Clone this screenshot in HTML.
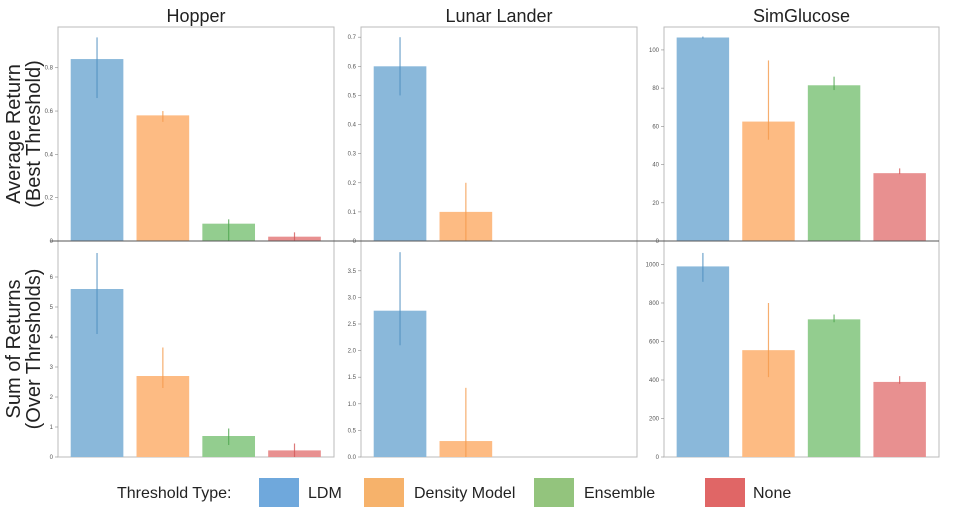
<!DOCTYPE html>
<html><head><meta charset="utf-8">
<style>
html,body{margin:0;padding:0;background:#fff;}
svg{display:block;font-family:"Liberation Sans",sans-serif;}
</style></head>
<body>
<svg id="chart" width="954" height="519" viewBox="0 0 954 519" xmlns="http://www.w3.org/2000/svg">
  <text transform="translate(20,134) rotate(-90)" text-anchor="middle" font-size="20" fill="#222">Average Return</text>
  <text transform="translate(40,134) rotate(-90)" text-anchor="middle" font-size="20" fill="#222">(Best Threshold)</text>
  <text transform="translate(20,349) rotate(-90)" text-anchor="middle" font-size="20" fill="#222">Sum of Returns</text>
  <text transform="translate(40,349) rotate(-90)" text-anchor="middle" font-size="20" fill="#222">(Over Thresholds)</text>
  <g>
    <text x="117" y="498" font-size="16" fill="#222">Threshold Type:</text>
    <rect x="259" y="478" width="40" height="29" fill="#6fa8dc"/>
    <text x="308" y="498" font-size="16" fill="#222">LDM</text>
    <rect x="364" y="478" width="40" height="29" fill="#f6b26b"/>
    <text x="414" y="498" font-size="16" fill="#222">Density Model</text>
    <rect x="534" y="478" width="40" height="29" fill="#93c47d"/>
    <text x="584" y="498" font-size="16" fill="#222">Ensemble</text>
    <rect x="705" y="478" width="40" height="29" fill="#e06666"/>
    <text x="753" y="498" font-size="16" fill="#222">None</text>
  </g>
</svg>
<script>
const categories = ["LDM","Density Model","Ensemble","None"];
const envs = ["Hopper","Lunar Lander","SimGlucose"];
// top row: average return
const hopperAvg = [0.84,0.58,0.08,0.02];
const hopperAvgLo = [0.66,0.55,0.0,0.0];
const hopperAvgHi = [0.94,0.60,0.10,0.04];
const lunarAvg = [0.6,0.1,null,null];
const lunarAvgLo = [0.5,0.0,null,null];
const lunarAvgHi = [0.7,0.2,null,null];
const simAvg = [106.5,62.5,81.5,35.5];
const simAvgLo = [106,53,79,35];
const simAvgHi = [107,94.5,86,38];
// bottom row: sum of returns
const hopperSum = [5.6,2.7,0.7,0.22];
const hopperSumLo = [4.1,2.3,0.4,0.0];
const hopperSumHi = [6.8,3.65,0.95,0.45];
const lunarSum = [2.75,0.3,null,null];
const lunarSumLo = [2.1,0.0,null,null];
const lunarSumHi = [3.85,1.3,null,null];
const simSum = [990,555,715,390];
const simSumLo = [910,415,700,380];
const simSumHi = [1060,800,740,420];
// tick labels
const hopperAvgTicks = [0,0.2,0.4,0.6,0.8];
const hopperAvgTickLabels = ["0","0.2","0.4","0.6","0.8"];
const lunarAvgTicks = [0,0.1,0.2,0.3,0.4,0.5,0.6,0.7];
const lunarAvgTickLabels = ["0","0.1","0.2","0.3","0.4","0.5","0.6","0.7"];
const simAvgTicks = [0,20,40,60,80,100];
const simAvgTickLabels = ["0","20","40","60","80","100"];
const hopperSumTicks = [0,1,2,3,4,5,6];
const hopperSumTickLabels = ["0","1","2","3","4","5","6"];
const lunarSumTicks = [0,0.5,1,1.5,2,2.5,3,3.5];
const lunarSumTickLabels = ["0.0","0.5","1.0","1.5","2.0","2.5","3.0","3.5"];
const simSumTicks = [0,200,400,600,800,1000];
const simSumTickLabels = ["0","200","400","600","800","1000"];
const yMaxTop = [0.988,0.735,112];
const yMaxBottom = [7.2,4.06,1122];

const barFill = ["#8ab8da","#fdbb83","#93cd8f","#e89090"];
const errColor = ["#4f8fc0","#f59a4c","#4fa64f","#d45a5a"];
const NS = "http://www.w3.org/2000/svg";
const svg = document.getElementById("chart");
const panelsX = [[58,334],[361,637],[664,939]];
const rows = [[27,241],[241,457]];

function mk(tag, attrs){ const e=document.createElementNS(NS,tag); for(const k in attrs) e.setAttribute(k,attrs[k]); svg.appendChild(e); return e; }

const panelData = [
  [[hopperAvg,hopperAvgLo,hopperAvgHi,hopperAvgTicks,hopperAvgTickLabels],[lunarAvg,lunarAvgLo,lunarAvgHi,lunarAvgTicks,lunarAvgTickLabels],[simAvg,simAvgLo,simAvgHi,simAvgTicks,simAvgTickLabels]],
  [[hopperSum,hopperSumLo,hopperSumHi,hopperSumTicks,hopperSumTickLabels],[lunarSum,lunarSumLo,lunarSumHi,lunarSumTicks,lunarSumTickLabels],[simSum,simSumLo,simSumHi,simSumTicks,simSumTickLabels]]
];

for(let r=0;r<2;r++){
  for(let c=0;c<3;c++){
    const [x0,x1]=panelsX[c]; const [y0,y1]=rows[r];
    const ymax = r===0?yMaxTop[c]:yMaxBottom[c];
    const yS = v => y1 - (v/ymax)*(y1-y0);
    const unit=(x1-x0)/4.193;
    const xS = i => x0 + (i+0.593)*unit;
    const [vals,lo,hi,ticks,labels]=panelData[r][c];
    const frame = mk("rect",{x:x0,y:y0,width:x1-x0,height:y1-y0,fill:"none",stroke:"#bbb","stroke-width":1});
    
    
    ticks.forEach((t,k)=>{
      const tl = mk("line",{x1:x0-3,x2:x0,y1:yS(t),y2:yS(t),stroke:"#888","stroke-width":0.6});
      
      
      const tx = mk("text",{x:x0-5,y:yS(t)+2,"font-size":6,"text-anchor":"end",fill:"#555"});
      tx.textContent = labels[k];
      
      
    });
    vals.forEach((v,i)=>{
      if(v===null) return;
      const cx=xS(i), w=unit*0.8;
      const b = mk("rect",{x:cx-w/2,y:yS(v),width:w,height:yS(0)-yS(v),fill:barFill[i]});
      
      
      const e = mk("line",{x1:cx,x2:cx,y1:yS(lo[i]),y2:yS(hi[i]),stroke:errColor[i],"stroke-width":1.2,opacity:0.8});
      
      
    });
    if(r===0){
      const t = mk("text",{x:(x0+x1)/2,y:22,"font-size":18,"text-anchor":"middle",fill:"#222"});
      t.textContent = envs[c];
      
      
    }
  }
}
const div = mk("line",{x1:50,x2:939,y1:241,y2:241,stroke:"#555","stroke-width":1});


</script>
</body></html>
